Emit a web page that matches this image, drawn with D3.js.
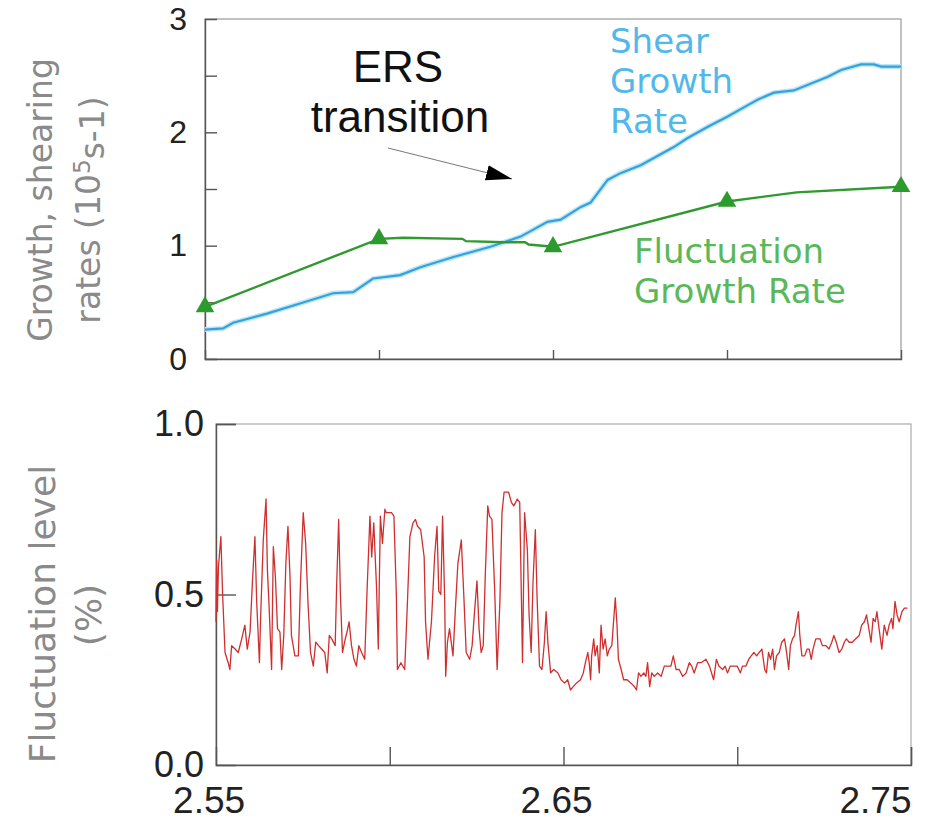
<!DOCTYPE html>
<html>
<head>
<meta charset="utf-8">
<script src="https://cdn.jsdelivr.net/npm/d3@7"></script>
<style>
  body { margin: 0; background: #fff; }
  svg { display: block; }
  .tick text { font-family: "Liberation Sans", Arial, sans-serif; fill: #222; }
</style>
</head>
<body>
<svg></svg>
<script>
const width = 933;
const height = 824;

// top panel: growth / shearing rates
const shearX = [2.5500, 2.5552, 2.5581, 2.5678, 2.5773, 2.5868, 2.5926, 2.5983, 2.6061, 2.6119,
  2.6214, 2.6320, 2.6407, 2.6484, 2.6522, 2.6579, 2.6608, 2.6657, 2.6694, 2.6752,
  2.6847, 2.6887, 2.6945, 2.7002, 2.7060, 2.7089, 2.7135, 2.7192, 2.7290, 2.7328,
  2.7385, 2.7422, 2.7443, 2.7500];
const shearRate = [0.26, 0.27, 0.32, 0.40, 0.49, 0.58, 0.59, 0.71, 0.74, 0.81,
  0.90, 0.99, 1.08, 1.21, 1.23, 1.34, 1.38, 1.58, 1.64, 1.71,
  1.87, 1.95, 2.05, 2.14, 2.24, 2.29, 2.35, 2.37, 2.49, 2.55,
  2.60, 2.60, 2.58, 2.58];

const growthX = [2.55, 2.60, 2.607, 2.624, 2.625, 2.636, 2.642, 2.643, 2.65, 2.70, 2.72, 2.75];
const growthRate = [0.46, 1.06, 1.07, 1.06, 1.04, 1.03, 1.03, 1.01, 0.99, 1.39, 1.47, 1.52];
const growthMarkX = [2.55, 2.60, 2.65, 2.70, 2.75];
const growthMark = [0.46, 1.06, 0.99, 1.39, 1.52];

// bottom panel: fluctuation level (%)
const fluctX = [
  2.5500, 2.5502, 2.5504, 2.5507, 2.5514, 2.5519, 2.5526, 2.5535, 2.5540, 2.5545,
  2.5555, 2.5564, 2.5574, 2.5583, 2.5590, 2.5598, 2.5605, 2.5612, 2.5617, 2.5625,
  2.5628, 2.5636, 2.5644, 2.5648, 2.5653, 2.5660, 2.5665, 2.5671, 2.5677, 2.5684,
  2.5689, 2.5695, 2.5701, 2.5707, 2.5713, 2.5717, 2.5727, 2.5737, 2.5743, 2.5751,
  2.5758, 2.5765, 2.5772, 2.5780, 2.5787, 2.5795, 2.5804, 2.5813, 2.5820, 2.5826,
  2.5833, 2.5843, 2.5847, 2.5853, 2.5858, 2.5864, 2.5872, 2.5877, 2.5883, 2.5890,
  2.5897, 2.5904, 2.5911, 2.5919, 2.5928, 2.5935, 2.5943, 2.5948, 2.5954, 2.5962,
  2.5967, 2.5973, 2.5979, 2.5986, 2.5990, 2.6005, 2.6012, 2.6019, 2.6022, 2.6032,
  2.6043, 2.6051, 2.6058, 2.6067, 2.6074, 2.6080, 2.6089, 2.6099, 2.6103, 2.6110,
  2.6120, 2.6129, 2.6136, 2.6141, 2.6147, 2.6152, 2.6158, 2.6161, 2.6166, 2.6172,
  2.6182, 2.6189, 2.6196, 2.6206, 2.6213, 2.6220, 2.6230, 2.6237, 2.6244, 2.6251,
  2.6257, 2.6263, 2.6269, 2.6275, 2.6282, 2.6287, 2.6294, 2.6302, 2.6309, 2.6317,
  2.6323, 2.6329, 2.6342, 2.6350, 2.6357, 2.6367, 2.6374, 2.6378, 2.6382, 2.6388,
  2.6396, 2.6401, 2.6407, 2.6412, 2.6419, 2.6424, 2.6431, 2.6438, 2.6445, 2.6450,
  2.6455, 2.6463, 2.6472, 2.6484, 2.6493, 2.6503, 2.6512, 2.6520, 2.6528, 2.6537,
  2.6549, 2.6557, 2.6563, 2.6570, 2.6574, 2.6578, 2.6581, 2.6587, 2.6591, 2.6597,
  2.6603, 2.6608, 2.6614, 2.6620, 2.6626, 2.6632, 2.6639, 2.6644, 2.6649, 2.6654,
  2.6658, 2.6666, 2.6673, 2.6683, 2.6694, 2.6704, 2.6710, 2.6716, 2.6723, 2.6731,
  2.6737, 2.6742, 2.6748, 2.6754, 2.6761, 2.6771, 2.6781, 2.6790, 2.6800, 2.6809,
  2.6816, 2.6824, 2.6833, 2.6843, 2.6853, 2.6862, 2.6869, 2.6876, 2.6886, 2.6896,
  2.6910, 2.6920, 2.6932, 2.6940, 2.6947, 2.6958, 2.6965, 2.6972, 2.6980, 2.6992,
  2.7000, 2.7009, 2.7015, 2.7025, 2.7033, 2.7040, 2.7048, 2.7056, 2.7063, 2.7071,
  2.7079, 2.7084, 2.7090, 2.7096, 2.7102, 2.7107, 2.7113, 2.7121, 2.7128, 2.7136,
  2.7142, 2.7148, 2.7153, 2.7159, 2.7165, 2.7169, 2.7176, 2.7180, 2.7186, 2.7194,
  2.7201, 2.7207, 2.7213, 2.7218, 2.7226, 2.7238, 2.7245, 2.7255, 2.7264, 2.7272,
  2.7278, 2.7285, 2.7293, 2.7301, 2.7308, 2.7314, 2.7322, 2.7331, 2.7341, 2.7351,
  2.7358, 2.7366, 2.7372, 2.7377, 2.7385, 2.7391, 2.7397, 2.7402, 2.7408, 2.7416,
  2.7423, 2.7431, 2.7437, 2.7444, 2.7448, 2.7454, 2.7460, 2.7466, 2.7474, 2.7481,
  2.7490];
const fluctLevel = [
  0.42, 0.60, 0.45, 0.58, 0.67, 0.50, 0.33, 0.30, 0.28, 0.35,
  0.34, 0.33, 0.37, 0.41, 0.34, 0.39, 0.54, 0.67, 0.48, 0.30,
  0.42, 0.66, 0.78, 0.57, 0.46, 0.28, 0.64, 0.55, 0.40, 0.39,
  0.28, 0.38, 0.59, 0.70, 0.55, 0.38, 0.32, 0.32, 0.53, 0.74,
  0.65, 0.47, 0.33, 0.29, 0.36, 0.35, 0.34, 0.33, 0.27, 0.38,
  0.37, 0.35, 0.52, 0.72, 0.50, 0.33, 0.37, 0.39, 0.42, 0.35,
  0.31, 0.29, 0.35, 0.33, 0.31, 0.52, 0.73, 0.61, 0.71, 0.52,
  0.34, 0.73, 0.65, 0.75, 0.74, 0.74, 0.73, 0.50, 0.28, 0.30,
  0.28, 0.48, 0.67, 0.71, 0.72, 0.70, 0.69, 0.61, 0.42, 0.31,
  0.42, 0.61, 0.70, 0.51, 0.50, 0.73, 0.49, 0.26, 0.36, 0.40,
  0.32, 0.46, 0.59, 0.66, 0.50, 0.33, 0.31, 0.35, 0.45, 0.54,
  0.40, 0.33, 0.35, 0.56, 0.76, 0.73, 0.72, 0.51, 0.28, 0.48,
  0.74, 0.80, 0.80, 0.77, 0.76, 0.78, 0.77, 0.54, 0.30, 0.74,
  0.63, 0.44, 0.33, 0.53, 0.69, 0.49, 0.29, 0.28, 0.36, 0.45,
  0.36, 0.27, 0.28, 0.27, 0.25, 0.24, 0.25, 0.22, 0.23, 0.24,
  0.25, 0.27, 0.30, 0.33, 0.30, 0.25, 0.32, 0.37, 0.32, 0.35,
  0.27, 0.41, 0.34, 0.37, 0.32, 0.34, 0.35, 0.42, 0.49, 0.41,
  0.31, 0.28, 0.25, 0.25, 0.24, 0.23, 0.22, 0.27, 0.26, 0.27,
  0.26, 0.30, 0.23, 0.27, 0.26, 0.27, 0.26, 0.29, 0.29, 0.29,
  0.32, 0.28, 0.28, 0.26, 0.27, 0.30, 0.29, 0.27, 0.30, 0.30,
  0.31, 0.29, 0.25, 0.31, 0.29, 0.28, 0.29, 0.27, 0.29, 0.29,
  0.29, 0.27, 0.29, 0.29, 0.31, 0.32, 0.33, 0.32, 0.33, 0.34,
  0.28, 0.27, 0.33, 0.31, 0.34, 0.28, 0.32, 0.33, 0.36, 0.37,
  0.33, 0.28, 0.35, 0.37, 0.38, 0.41, 0.45, 0.38, 0.32, 0.32,
  0.34, 0.34, 0.31, 0.34, 0.37, 0.37, 0.35, 0.35, 0.34, 0.36,
  0.38, 0.36, 0.33, 0.34, 0.36, 0.37, 0.36, 0.36, 0.37, 0.38,
  0.41, 0.42, 0.44, 0.41, 0.36, 0.43, 0.42, 0.45, 0.40, 0.34,
  0.41, 0.38, 0.41, 0.43, 0.40, 0.48, 0.44, 0.42, 0.45, 0.46,
  0.46];

const topTicks = [0, 1, 2, 3];
const topMinor = [0.5, 1, 1.5, 2, 2.5];
const bottomTicks = [0, 0.5, 1];
const xTicks = [2.60, 2.65, 2.70, 2.75];
const xLabels = [2.55, 2.65, 2.75];

const svg = d3.select("svg")
    .attr("width", width)
    .attr("height", height);

// scales
let xTop = d3.scaleLinear().domain([2.55, 2.75]).range([205, 901]);
let yTop = d3.scaleLinear().domain([0, 3]).range([359, 19]);
let xBot = d3.scaleLinear().domain([2.55, 2.75]).range([216, 911]);
let yBot = d3.scaleLinear().domain([0, 1]).range([765, 424]);

// frames
function frame(x, y, topColor) {
  svg.append("rect")
      .attr("x", x.range()[0])
      .attr("y", y.range()[1])
      .attr("width", x.range()[1] - x.range()[0])
      .attr("height", y.range()[0] - y.range()[1])
      .attr("fill", "none")
      .attr("stroke", topColor)
      .attr("stroke-width", 1.2);
}
frame(xTop, yTop, "#999");
frame(xBot, yBot, "#aaa");

// top axes
svg.append("g")
    .attr("transform", `translate(0, ${yTop.range()[0]})`)
    .call(d3.axisBottom(xTop).tickValues(xTicks.slice(0, 3)).tickSize(-9).tickFormat(""))
    .call(g => g.selectAll("line, path").attr("stroke", "#555").attr("stroke-width", 1.4));

svg.append("g")
    .attr("transform", `translate(${xTop.range()[0]}, 0)`)
    .call(d3.axisLeft(yTop).tickValues(topMinor).tickSize(-12).tickFormat(""))
    .call(g => g.selectAll("line, path").attr("stroke", "#555").attr("stroke-width", 1.4));

svg.append("g")
    .attr("transform", `translate(${xTop.range()[0]}, 0)`)
    .call(d3.axisLeft(yTop).tickValues(topTicks).tickSize(0).tickPadding(18).tickFormat(d3.format("d")))
    .call(g => g.select(".domain").remove())
    .call(g => g.selectAll("text").style("font-size", "32px"));

// bottom axes
svg.append("g")
    .attr("transform", `translate(0, ${yBot.range()[0]})`)
    .call(d3.axisBottom(xBot).tickValues(xTicks).tickSize(-18).tickFormat(""))
    .call(g => g.selectAll("line, path").attr("stroke", "#555").attr("stroke-width", 1.4));

svg.append("g")
    .attr("transform", `translate(0, ${yBot.range()[0]})`)
    .call(d3.axisBottom(xBot).tickValues(xLabels).tickSize(0).tickPadding(22).tickFormat(d3.format(".2f")))
    .call(g => g.select(".domain").remove())
    .call(g => g.selectAll("text")
        .style("font-size", "37px")
        .attr("dx", (d, i) => i === xLabels.length - 1 ? "0" : "-0.2em")
        .attr("text-anchor", (d, i) => i === xLabels.length - 1 ? "end" : "middle"));

svg.append("g")
    .attr("transform", `translate(${xBot.range()[0]}, 0)`)
    .call(d3.axisLeft(yBot).tickValues([0.5, 1]).tickSize(-20).tickFormat(""))
    .call(g => g.selectAll("line, path").attr("stroke", "#555").attr("stroke-width", 1.4));

svg.append("g")
    .attr("transform", `translate(${xBot.range()[0]}, 0)`)
    .call(d3.axisLeft(yBot).tickValues(bottomTicks).tickSize(0).tickPadding(12).tickFormat(d3.format(".1f")))
    .call(g => g.select(".domain").remove())
    .call(g => g.selectAll("text").style("font-size", "36px"));

// shear growth rate
const shearLine = d3.line()
  .x((d, i) => xTop(shearX[i]))
  .y(d => yTop(d));

svg.append("path")
    .datum(shearRate)
    .attr("d", shearLine)
    .attr("fill", "none")
    .attr("stroke", "#bfe6f8")
    .attr("stroke-width", 5);
svg.append("path")
    .datum(shearRate)
    .attr("d", shearLine)
    .attr("fill", "none")
    .attr("stroke", "#34a3dc")
    .attr("stroke-width", 2.2);

// fluctuation growth rate
const growthLine = d3.line()
  .x((d, i) => xTop(growthX[i]))
  .y(d => yTop(d));

svg.append("path")
    .datum(growthRate)
    .attr("d", growthLine)
    .attr("fill", "none")
    .attr("stroke", "#2f9a2f")
    .attr("stroke-width", 2.4);

svg.selectAll(".mark")
  .data(growthMark)
  .enter()
  .append("path")
    .attr("class", "mark")
    .attr("transform", (d, i) => `translate(${xTop(growthMarkX[i])}, ${yTop(d)})`)
    .attr("d", d3.symbol(d3.symbolTriangle, 150))
    .attr("fill", "#2c9a2c");

// fluctuation level trace
svg.append("path")
    .datum(fluctLevel)
    .attr("d", d3.line().x((d, i) => xBot(fluctX[i])).y(d => yBot(d)))
    .attr("fill", "none")
    .attr("stroke", "#cf2f2f")
    .attr("stroke-width", 1.3)
    .attr("stroke-linejoin", "round");

// annotations
svg.append("text")
    .attr("x", 398)
    .attr("y", 82)
    .attr("text-anchor", "middle")
    .style("font-family", "Liberation Sans, Arial, sans-serif")
    .style("font-size", "44px")
    .style("fill", "#111")
    .text("ERS");
svg.append("text")
    .attr("x", 400)
    .attr("y", 132)
    .attr("text-anchor", "middle")
    .style("font-family", "Liberation Sans, Arial, sans-serif")
    .style("font-size", "44px")
    .style("fill", "#111")
    .text("transition");

svg.append("defs").append("marker")
    .attr("id", "head")
    .attr("viewBox", "0 0 20 12")
    .attr("refX", 20)
    .attr("refY", 6)
    .attr("markerWidth", 26)
    .attr("markerHeight", 16)
    .attr("markerUnits", "userSpaceOnUse")
    .attr("orient", "auto")
  .append("path")
    .attr("d", "M0,0 L20,6 L0,12 Z")
    .attr("fill", "#000");

svg.append("line")
    .attr("x1", 388)
    .attr("y1", 148)
    .attr("x2", 512)
    .attr("y2", 179)
    .attr("stroke", "#777")
    .attr("stroke-width", 1)
    .attr("marker-end", "url(#head)");

const shearLabel = svg.append("text")
    .style("font-family", "DejaVu Sans, sans-serif")
    .style("font-size", "34px")
    .style("fill", "#52b8ea");
["Shear", "Growth", "Rate"].forEach((t, i) => {
  shearLabel.append("tspan").attr("x", 610).attr("y", 53 + i * 40).text(t);
});

const fluctLabel = svg.append("text")
    .style("font-family", "DejaVu Sans, sans-serif")
    .style("font-size", "34px")
    .style("fill", "#5ab85a");
["Fluctuation", "Growth Rate"].forEach((t, i) => {
  fluctLabel.append("tspan").attr("x", 634).attr("y", 263 + i * 40).text(t);
});

// axis titles
function yTitle(lines, cx, cy, size) {
  lines.forEach((t, i) => {
    const txt = svg.append("text")
        .attr("transform", `translate(${cx[i]}, ${cy[i]}) rotate(-90)`)
        .attr("dy", "0.35em")
        .attr("text-anchor", "middle")
        .style("font-family", "DejaVu Sans, sans-serif")
        .style("font-size", size)
        .style("fill", "#8a8a8a");
    txt.html(t);
  });
}
yTitle(["Growth, shearing", "rates (10<tspan dy='-0.4em' font-size='0.7em'>5</tspan><tspan dy='0.4em'>s-1)</tspan>"],
  [40, 88], [200, 210], "33px");
yTitle(["Fluctuation level", "(%)"], [42, 88], [614, 615], "36px");
</script>
</body>
</html>
